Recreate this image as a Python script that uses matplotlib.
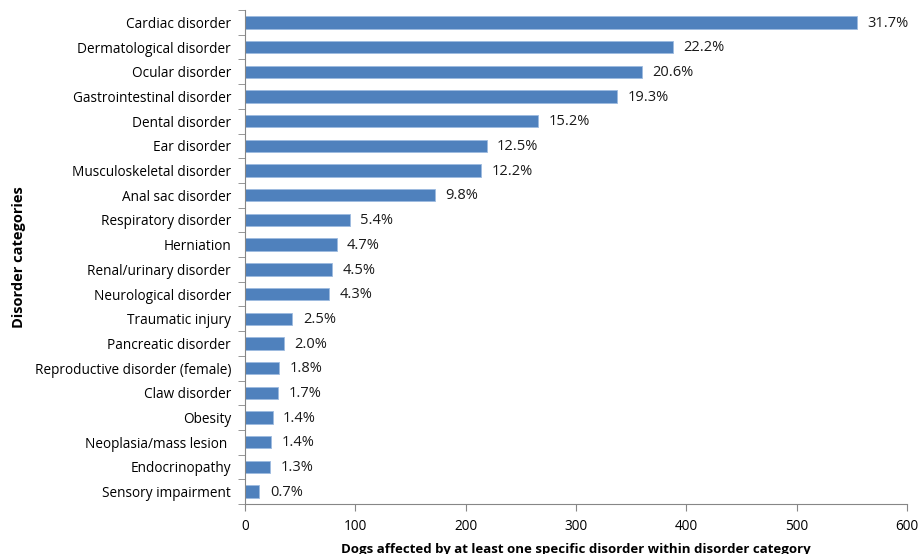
import numpy as np
import matplotlib
matplotlib.use("Agg")
import matplotlib.pyplot as plt

plt.rcParams['font.family'] = ['Open Sans', 'DejaVu Sans']

categories = ["Cardiac disorder", "Dermatological disorder", "Ocular disorder",
              "Gastrointestinal disorder", "Dental disorder", "Ear disorder",
              "Musculoskeletal disorder", "Anal sac disorder", "Respiratory disorder",
              "Herniation", "Renal/urinary disorder", "Neurological disorder",
              "Traumatic injury", "Pancreatic disorder", "Reproductive disorder (female)",
              "Claw disorder", "Obesity", "Neoplasia/mass lesion ", "Endocrinopathy",
              "Sensory impairment"]
dogs = [555, 388, 360, 337, 266, 219, 214, 172, 95, 83, 79, 76,
        43, 35, 31, 30, 25, 24, 23, 13]
pct_labels = ["31.7%", "22.2%", "20.6%", "19.3%", "15.2%", "12.5%", "12.2%", "9.8%",
              "5.4%", "4.7%", "4.5%", "4.3%", "2.5%", "2.0%", "1.8%", "1.7%",
              "1.4%", "1.4%", "1.3%", "0.7%"]

fig = plt.figure(figsize=(9.21, 5.54), dpi=100)
ax = fig.add_axes([245 / 921, 1 - 504 / 554, (907 - 245) / 921, (504 - 10) / 554])

y = np.arange(len(categories))
ax.barh(y, dogs, height=0.5, color='#4F81BD', edgecolor='#9dbbe0', linewidth=0.6)
for yi, v, lab in zip(y, dogs, pct_labels):
    ax.annotate(lab, (v, yi), xytext=(7.5, -0.5), textcoords='offset points',
                va='center', ha='left', fontsize=10.5, color='#1a1a1a')

ax.set_ylim(len(categories) - 0.5, -0.5)
ax.set_xlim(0, 600)
ax.set_xticks(np.arange(0, 601, 100))
ax.set_yticks(y)
ax.set_yticklabels(categories, fontsize=9.8)
ax.set_yticks(np.arange(-0.5, len(categories), 1), minor=True)
ax.tick_params(axis='y', which='major', length=0, pad=10)
ax.tick_params(axis='y', which='minor', length=5, color='#868686', direction='out')
ax.tick_params(axis='x', length=5, color='#868686', labelsize=9.8, pad=6)

for s in ['top', 'right']:
    ax.spines[s].set_visible(False)
for s in ['left', 'bottom']:
    ax.spines[s].set_color('#868686')

ax.set_xlabel("Dogs affected by at least one specific disorder within disorder category",
              fontsize=9.5, fontweight='bold', labelpad=6)
ax.set_ylabel("Disorder categories", fontsize=10.5, fontweight='bold')
ax.yaxis.set_label_coords(-(245 - 26) / 662, 0.5)

fig.savefig("out.png", dpi=100)
